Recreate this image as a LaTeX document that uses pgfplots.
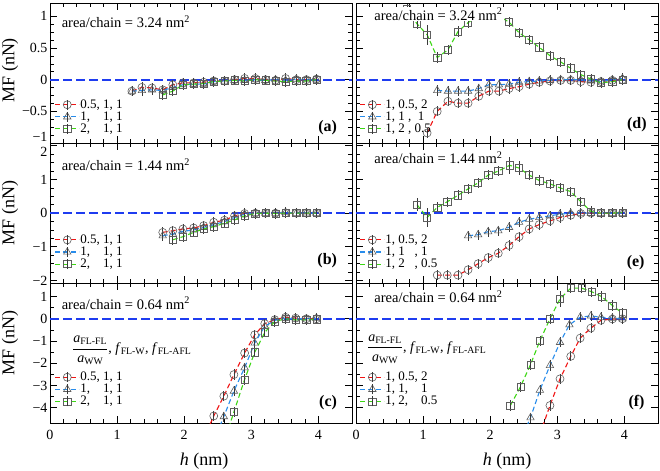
\documentclass[border=0pt]{standalone}
\usepackage{fontspec}
\setmainfont{Liberation Serif}
\usepackage{amsmath}
\usepackage{pgfplots}
\pgfplotsset{compat=1.18}
\usepgfplotslibrary{groupplots}

\definecolor{cred}{RGB}{240,20,20}
\definecolor{cblue}{RGB}{40,140,235}
\definecolor{cgreen}{RGB}{60,215,20}
\definecolor{zblue}{RGB}{30,60,240}
\definecolor{mk}{RGB}{95,95,95}

\pgfplotsset{
  ser/.style={color=#1, dash pattern=on 5pt off 3pt, line width=1.1pt,
    mark options={solid, draw=mk, fill=none, line width=0.6pt},
    error bars/y dir=both, error bars/y explicit, error bars/error mark=none,
    error bars/error bar style={solid, mk!60!black, line width=0.7pt}},
  sred/.style={ser=cred, mark=o, mark size=4pt},
  sblue/.style={ser=cblue, mark=triangle, mark size=4.3pt},
  sgreen/.style={ser=cgreen, mark=square, mark size=3.6pt},
  zero/.style={zblue, line width=1.6pt, dash pattern=on 9pt off 4pt, forget plot},
  rowA/.style={ymin=-1, ymax=1.21, ytick={-1,-0.5,0,0.5,1}, minor y tick num=3},
  rowB/.style={ymin=-2.08, ymax=2.08, ytick={-2,-1,0,1,2}, minor y tick num=3},
  rowC/.style={ymin=-4.7, ymax=1.6, ytick={-4,-3,-2,-1,0,1}, minor y tick num=1},
}
\tikzset{
  ann/.style={fill=white, inner sep=1pt, anchor=west, font=\fontsize{14.5}{16}\selectfont},
  plab/.style={anchor=east, font=\fontsize{16}{18}\selectfont\bfseries},
  ylab/.style={rotate=90, font=\fontsize{18}{20}\selectfont},
  xlab/.style={font=\fontsize{18}{20}\selectfont},
}

\begin{document}
\begin{tikzpicture}
\begin{groupplot}[
  group style={group size=2 by 3, horizontal sep=4pt, vertical sep=0pt},
  width=302pt, height=140.1pt, scale only axis,
  xmin=0, xmax=4.5, xtick={0,1,2,3,4}, minor x tick num=4, xticklabels={},
  tick align=inside, tick pos=both,
  major tick length=7pt, minor tick length=4pt,
  every tick/.append style={black, line width=0.7pt},
  axis line style={line width=0.8pt},
  clip mode=individual,
  tick label style={font=\fontsize{14}{14}\selectfont},
  yticklabel style={xshift=1pt},
  xticklabel style={yshift=-3pt},
  legend cell align=left,
  legend style={draw=none, fill=none, anchor=south west, font=\fontsize{13}{13}\selectfont,
    row sep=1pt, inner sep=0pt, nodes={inner sep=0.5pt}},
  legend image code/.code={
    \draw[mark repeat=2, mark phase=2, #1] plot coordinates {(0pt,0pt) (12pt,0pt) (24pt,0pt)};
    \draw[solid, mk!60!black, line width=0.7pt] (12pt,-5pt) -- (12pt,5pt);
  },
]
% ---------------- (a)
\nextgroupplot[rowA, yticklabels={\smash{\raisebox{1.5pt}{−1}},−0.5,0,0.5,1}, legend style={at={(0.015,0.06)}}]
\addplot[zero] coordinates {(0,0) (4.5,0)};
\addplot[sred] table[x=x, y=y, y error=e, row sep=\\] {x y e\\
1.22 -0.18 0.08\\ 1.37 -0.12 0.08\\ 1.52 -0.13 0.08\\ 1.68 -0.16 0.08\\ 1.83 -0.08 0.08\\
1.98 -0.05 0.08\\ 2.14 -0.05 0.08\\ 2.29 -0.04 0.08\\ 2.44 -0.02 0.08\\ 2.60 -0.02 0.08\\
2.75 0.00 0.08\\ 2.90 0.02 0.08\\ 3.06 0.02 0.08\\ 3.21 0.00 0.08\\ 3.36 -0.01 0.08\\
3.51 0.02 0.08\\ 3.67 0.00 0.08\\ 3.82 0.00 0.08\\ 3.97 0.01 0.08\\};
\addlegendentry{0.5, 1, 1}
\addplot[sblue] table[x=x, y=y, y error=e, row sep=\\] {x y e\\
1.22 -0.18 0.08\\ 1.37 -0.17 0.08\\ 1.52 -0.16 0.08\\ 1.68 -0.17 0.08\\ 1.83 -0.12 0.08\\
1.98 -0.08 0.08\\ 2.14 -0.07 0.08\\ 2.29 -0.07 0.08\\ 2.44 -0.03 0.08\\ 2.60 -0.02 0.08\\
2.75 -0.01 0.08\\ 2.90 -0.01 0.08\\ 3.06 0.00 0.08\\ 3.21 -0.01 0.08\\ 3.36 0.00 0.08\\
3.51 -0.01 0.08\\ 3.67 0.01 0.08\\ 3.82 0.00 0.08\\ 3.97 0.00 0.08\\};
\addlegendentry{1,\hphantom{.5} 1, 1}
\addplot[sgreen] table[x=x, y=y, y error=e, row sep=\\] {x y e\\
1.68 -0.24 0.08\\ 1.83 -0.18 0.08\\ 1.98 -0.08 0.08\\ 2.14 -0.07 0.08\\ 2.29 -0.06 0.08\\
2.44 -0.03 0.08\\ 2.60 -0.02 0.08\\ 2.75 -0.01 0.08\\ 2.90 -0.02 0.08\\ 3.06 0.00 0.08\\
3.21 -0.01 0.08\\ 3.36 -0.02 0.08\\ 3.51 -0.03 0.08\\ 3.67 -0.02 0.08\\ 3.82 -0.02 0.08\\
3.97 0.00 0.08\\};
\addlegendentry{2,\hphantom{.5} 1, 1}
\node[ann] at (rel axis cs:0.035,0.866) {area/chain = 3.24 nm\textsuperscript{2}};
\node[plab] at (rel axis cs:0.962,0.107) {(a)};
\node[ylab] at ([xshift=-40pt]rel axis cs:0,0.52) {MF (nN)};
% ---------------- (d)
\nextgroupplot[rowA, yticklabels={}, legend style={at={(0.012,0.06)}}]
\addplot[zero] coordinates {(0,0) (4.5,0)};
\addplot[sred] table[x=x, y=y, y error=e, row sep=\\] {x y e\\
1.06 -0.84 0.08\\ 1.21 -0.50 0.08\\ 1.37 -0.34 0.08\\ 1.52 -0.37 0.08\\ 1.67 -0.37 0.08\\
1.83 -0.26 0.08\\ 1.98 -0.18 0.08\\ 2.13 -0.18 0.08\\ 2.28 -0.14 0.08\\ 2.43 -0.11 0.08\\
2.58 -0.07 0.08\\ 2.73 -0.04 0.08\\ 2.89 -0.02 0.08\\ 3.05 -0.01 0.08\\ 3.20 -0.01 0.08\\
3.35 -0.03 0.08\\ 3.50 -0.04 0.08\\ 3.65 -0.03 0.08\\ 3.82 -0.01 0.08\\ 3.97 0.00 0.08\\};
\addlegendentry{1, 0.5, 2}
\addplot[sblue] table[x=x, y=y, y error=e, row sep=\\] {x y e\\
1.21 -0.17 0.08\\ 1.37 -0.18 0.08\\ 1.52 -0.18 0.08\\ 1.67 -0.18 0.08\\ 1.83 -0.14 0.08\\
1.98 -0.08 0.08\\ 2.13 -0.08 0.08\\ 2.28 -0.07 0.08\\ 2.43 -0.04 0.08\\ 2.58 -0.03 0.08\\
2.73 -0.02 0.08\\ 2.89 -0.01 0.08\\ 3.05 0.00 0.08\\ 3.20 0.00 0.08\\ 3.35 0.00 0.08\\
3.50 -0.02 0.08\\ 3.65 -0.03 0.08\\ 3.82 0.00 0.08\\ 3.97 0.02 0.08\\};
\addlegendentry{1, 1\ ,\ \ 1}
\addplot[sgreen] table[x=x, y=y, y error=e, row sep=\\] {x y e\\
0.76 1.12 0.08\\ 0.91 0.88 0.08\\ 1.06 0.71 0.16\\ 1.21 0.35 0.08\\ 1.37 0.47 0.08\\
1.52 0.76 0.08\\ 1.67 0.90 0.08\\ 1.83 1.02 0.08\\ 1.98 1.05 0.08\\ 2.13 1.00 0.08\\
2.28 0.91 0.08\\ 2.43 0.74 0.08\\ 2.58 0.63 0.08\\ 2.73 0.51 0.08\\ 2.89 0.38 0.08\\
3.05 0.28 0.08\\ 3.20 0.18 0.08\\ 3.35 0.08 0.08\\ 3.50 0.01 0.08\\ 3.65 -0.05 0.08\\
3.82 -0.03 0.08\\ 3.97 0.00 0.08\\};
\addlegendentry{1, 2\ , 0.5}
\node[ann] at (rel axis cs:0.057,0.92) {area/chain = 3.24 nm\textsuperscript{2}};
\node[plab] at (rel axis cs:0.974,0.133) {(d)};
% ---------------- (b)
\nextgroupplot[rowB, yticklabels={−2,−1,0,1,\smash{\raisebox{-10.5pt}{2}}}, legend style={at={(0.015,0.095)}}]
\addplot[zero] coordinates {(0,0) (4.5,0)};
\addplot[sred] table[x=x, y=y, y error=e, row sep=\\] {x y e\\
1.68 -0.57 0.15\\ 1.83 -0.52 0.15\\ 1.98 -0.47 0.15\\ 2.14 -0.44 0.15\\ 2.29 -0.37 0.15\\
2.44 -0.27 0.15\\ 2.60 -0.21 0.15\\ 2.75 -0.08 0.15\\ 2.90 -0.01 0.15\\ 3.06 0.00 0.15\\
3.21 0.00 0.15\\ 3.36 0.00 0.15\\ 3.51 0.01 0.15\\ 3.67 0.00 0.15\\ 3.82 0.00 0.15\\
3.97 0.00 0.15\\};
\addlegendentry{0.5, 1, 1}
\addplot[sblue] table[x=x, y=y, y error=e, row sep=\\] {x y e\\
1.68 -0.67 0.15\\ 1.83 -0.62 0.15\\ 1.98 -0.54 0.15\\ 2.14 -0.50 0.15\\ 2.29 -0.42 0.15\\
2.44 -0.34 0.15\\ 2.60 -0.25 0.15\\ 2.75 -0.13 0.15\\ 2.90 -0.03 0.15\\ 3.06 0.00 0.15\\
3.21 0.00 0.15\\ 3.36 0.00 0.15\\ 3.51 0.02 0.15\\ 3.67 0.00 0.15\\ 3.82 0.01 0.15\\
3.97 0.00 0.15\\};
\addlegendentry{1,\hphantom{.5} 1, 1}
\addplot[sgreen] table[x=x, y=y, y error=e, row sep=\\] {x y e\\
1.83 -0.79 0.15\\ 1.98 -0.70 0.15\\ 2.14 -0.57 0.15\\ 2.29 -0.47 0.15\\ 2.44 -0.40 0.15\\
2.60 -0.30 0.15\\ 2.75 -0.20 0.15\\ 2.90 -0.08 0.15\\ 3.06 -0.01 0.15\\ 3.21 0.00 0.15\\
3.36 -0.01 0.15\\ 3.51 0.00 0.15\\ 3.67 0.00 0.15\\ 3.82 0.00 0.15\\ 3.97 0.00 0.15\\};
\addlegendentry{2,\hphantom{.5} 1, 1}
\node[ann] at (rel axis cs:0.035,0.843) {area/chain = 1.44 nm\textsuperscript{2}};
\node[plab] at (rel axis cs:0.962,0.16) {(b)};
\node[ylab] at ([xshift=-40pt]rel axis cs:0,0.5) {MF (nN)};
% ---------------- (e)
\nextgroupplot[rowB, yticklabels={}, legend style={at={(0.012,0.095)}}]
\addplot[zero] coordinates {(0,0) (4.5,0)};
\addplot[sred] table[x=x, y=y, y error=e, row sep=\\] {x y e\\
1.21 -1.84 0.15\\ 1.36 -1.84 0.15\\ 1.52 -1.84 0.15\\ 1.67 -1.68 0.15\\ 1.82 -1.50 0.15\\
1.97 -1.32 0.15\\ 2.12 -1.19 0.15\\ 2.28 -0.96 0.15\\ 2.43 -0.70 0.15\\ 2.58 -0.47 0.15\\
2.73 -0.34 0.15\\ 2.89 -0.23 0.15\\ 3.04 -0.13 0.15\\ 3.20 -0.06 0.15\\ 3.35 -0.01 0.15\\
3.50 0.00 0.15\\ 3.65 0.00 0.15\\ 3.82 0.00 0.15\\ 3.97 0.00 0.15\\};
\addlegendentry{1, 0.5, 2}
\addplot[sblue] table[x=x, y=y, y error=e, row sep=\\] {x y e\\
1.67 -0.67 0.15\\ 1.82 -0.64 0.15\\ 1.97 -0.55 0.15\\ 2.12 -0.52 0.15\\ 2.28 -0.42 0.15\\
2.43 -0.27 0.15\\ 2.58 -0.18 0.15\\ 2.73 -0.13 0.15\\ 2.89 -0.08 0.15\\ 3.04 -0.03 0.15\\
3.20 0.00 0.15\\ 3.35 0.00 0.15\\ 3.50 0.00 0.15\\ 3.65 0.00 0.15\\ 3.82 0.00 0.15\\
3.97 0.00 0.15\\};
\addlegendentry{1, 1\hphantom{.5}, 1}
\addplot[sgreen] table[x=x, y=y, y error=e, row sep=\\] {x y e\\
0.91 0.25 0.20\\ 1.06 -0.13 0.27\\ 1.21 0.17 0.15\\ 1.36 0.34 0.15\\ 1.52 0.53 0.15\\
1.67 0.72 0.15\\ 1.82 0.90 0.15\\ 1.97 1.13 0.15\\ 2.12 1.25 0.15\\ 2.29 1.42 0.25\\
2.43 1.34 0.20\\ 2.58 1.13 0.15\\ 2.73 0.97 0.15\\ 2.89 0.87 0.15\\ 3.04 0.75 0.15\\
3.20 0.64 0.15\\ 3.35 0.34 0.15\\ 3.50 0.05 0.15\\ 3.65 0.00 0.15\\ 3.82 0.00 0.15\\
3.97 0.02 0.15\\};
\addlegendentry{1, 2\hphantom{.5}, 0.5}
\node[ann] at (rel axis cs:0.057,0.893) {area/chain = 1.44 nm\textsuperscript{2}};
\node[plab] at (rel axis cs:0.967,0.147) {(e)};
% ---------------- (c)
\nextgroupplot[rowC, yticklabels={−4,−3,−2,−1,0,1}, xticklabels={0,1,2,3,4}, legend style={at={(0.015,0.115)}}]
\addplot[zero] coordinates {(0,0) (4.5,0)};
\addplot[sred] table[x=x, y=y, y error=e, row sep=\\] {x y e\\
2.29 -5.40 0.23\\ 2.44 -4.37 0.23\\ 2.59 -3.48 0.23\\ 2.74 -2.51 0.23\\ 2.90 -1.54 0.23\\
3.05 -0.72 0.23\\ 3.20 -0.22 0.23\\ 3.35 -0.04 0.23\\ 3.51 0.07 0.23\\ 3.66 0.03 0.23\\
3.82 0.00 0.23\\ 3.97 0.00 0.23\\};
\addlegendentry{0.5, 1, 1}
\addplot[sblue] table[x=x, y=y, y error=e, row sep=\\] {x y e\\
2.44 -5.50 0.23\\ 2.59 -4.40 0.23\\ 2.74 -3.25 0.23\\ 2.90 -2.20 0.23\\ 3.05 -1.09 0.23\\
3.20 -0.34 0.23\\ 3.35 -0.07 0.23\\ 3.51 0.03 0.23\\ 3.66 0.00 0.23\\ 3.82 0.00 0.23\\
3.97 0.03 0.23\\};
\addlegendentry{1,\hphantom{.5} 1, 1}
\addplot[sgreen] table[x=x, y=y, y error=e, row sep=\\] {x y e\\
2.59 -5.60 0.23\\ 2.74 -4.19 0.23\\ 2.90 -2.73 0.23\\ 3.05 -1.51 0.23\\ 3.20 -0.61 0.23\\
3.35 -0.12 0.23\\ 3.51 0.00 0.23\\ 3.66 -0.05 0.23\\ 3.82 -0.05 0.23\\ 3.97 -0.02 0.23\\};
\addlegendentry{2,\hphantom{.5} 1, 1}
\node[ann] at (rel axis cs:0.035,0.857) {area/chain = 0.64 nm\textsuperscript{2}};
\node[plab] at (rel axis cs:0.962,0.145) {(c)};
\node[anchor=west, font=\fontsize{14}{16}\selectfont] at (rel axis cs:0.062,0.52)
  {$\dfrac{\textit{a}_{\text{FL-FL}}}{\textit{a}_{\text{WW}}}$, \textit{f}\textsubscript{FL-W}, \textit{f}\textsubscript{FL-AFL}};
\node[ylab] at ([xshift=-40pt]rel axis cs:0,0.573) {MF (nN)};
\node[xlab] at ([yshift=-38pt]rel axis cs:0.51,0) {\textit{h} (nm)};
% ---------------- (f)
\nextgroupplot[rowC, yticklabels={}, xticklabels={0,1,2,3,4}, legend style={at={(0.012,0.115)}}]
\addplot[zero] coordinates {(0,0) (4.5,0)};
\addplot[sred] table[x=x, y=y, y error=e, row sep=\\] {x y e\\
2.74 -5.20 0.23\\ 2.89 -3.90 0.23\\ 3.04 -2.70 0.23\\ 3.20 -1.69 0.23\\ 3.34 -0.87 0.23\\
3.50 -0.42 0.23\\ 3.65 -0.07 0.23\\ 3.82 -0.01 0.23\\ 3.97 0.00 0.23\\};
\addlegendentry{1, 0.5, 2}
\addplot[sblue] table[x=x, y=y, y error=e, row sep=\\] {x y e\\
2.45 -5.50 0.23\\ 2.60 -4.45 0.23\\ 2.74 -3.21 0.23\\ 2.89 -2.10 0.23\\ 3.04 -1.06 0.23\\
3.18 -0.27 0.23\\ 3.34 0.07 0.23\\ 3.50 0.13 0.23\\ 3.65 0.07 0.23\\ 3.82 0.03 0.23\\
3.97 0.00 0.23\\};
\addlegendentry{1, 1,\hphantom{.5} 1}
\addplot[sgreen] table[x=x, y=y, y error=e, row sep=\\] {x y e\\
2.30 -3.90 0.23\\ 2.45 -3.06 0.23\\ 2.60 -2.06 0.23\\ 2.74 -0.99 0.23\\ 2.89 0.00 0.23\\
3.04 0.90 0.35\\ 3.20 1.38 0.23\\ 3.36 1.38 0.23\\ 3.51 1.22 0.23\\ 3.66 1.00 0.23\\
3.82 0.60 0.23\\ 3.97 0.25 0.23\\};
\addlegendentry{1, 2,\hphantom{.5} 0.5}
\node[ann] at (rel axis cs:0.057,0.904) {area/chain = 0.64 nm\textsuperscript{2}};
\node[plab] at (rel axis cs:0.967,0.145) {(f)};
\node[anchor=west, font=\fontsize{14}{16}\selectfont] at (rel axis cs:0.025,0.53)
  {$\dfrac{\textit{a}_{\text{FL-FL}}}{\textit{a}_{\text{WW}}}$, \textit{f}\textsubscript{FL-W}, \textit{f}\textsubscript{FL-AFL}};
\node[xlab] at ([yshift=-38pt]rel axis cs:0.5,0) {\textit{h} (nm)};
\end{groupplot}
\pgfresetboundingbox
\path[use as bounding box] ([shift={(-50pt,-47.7pt)}]group c1r3.south west) rectangle ([shift={(2pt,3pt)}]group c2r1.north east);
\end{tikzpicture}
\end{document}
